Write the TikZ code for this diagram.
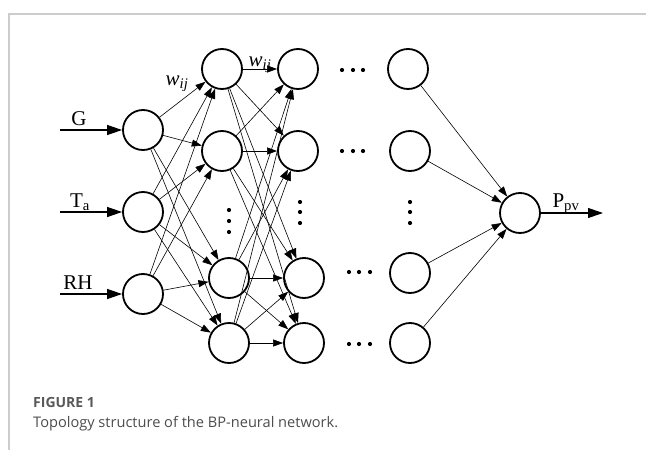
\documentclass[tikz,border=0pt]{standalone}
\usepackage{fontspec}
\setmainfont{Liberation Serif}
\newfontfamily\capfont{Open Sans}
\usetikzlibrary{arrows.meta}
\begin{document}
\begin{tikzpicture}[x=1pt,y=-1pt,
  neuron/.style={circle,draw,line width=1.8pt,minimum size=40pt,inner sep=0pt},
  link/.style={line width=0.6pt,-{Triangle[length=10pt,width=7pt]}},
  inarrow/.style={line width=1.1pt,-{Triangle[length=15pt,width=10pt]}},
  lbl/.style={font=\fontsize{21}{22}\selectfont,inner sep=0pt},
  dotc/.style={fill,circle,inner sep=0pt,minimum size=4.2pt}]
\useasboundingbox (0,0) rectangle (646,450);
\draw[line width=1.3pt,black!20] (646,14) -- (9,14) -- (9,450);
% layer 1
\node[neuron] (a1) at (143,130) {};
\node[neuron] (a2) at (143,212) {};
\node[neuron] (a3) at (143,294) {};
% layer 2
\node[neuron] (b1) at (222,69) {};
\node[neuron] (b2) at (222,151) {};
\node[neuron] (b3) at (229,278) {};
\node[neuron] (b4) at (229,343) {};
% layer 3
\node[neuron] (c1) at (298,69) {};
\node[neuron] (c2) at (298,151) {};
\node[neuron] (c3) at (304,278) {};
\node[neuron] (c4) at (304,343) {};
% layer 4
\node[neuron] (d1) at (408,69) {};
\node[neuron] (d2) at (410,151) {};
\node[neuron] (d3) at (410,273) {};
\node[neuron] (d4) at (410,343) {};
% output
\node[neuron] (o) at (520,213) {};
% inputs
\coordinate (iG) at (60,130);
\coordinate (iT) at (60,212);
\coordinate (iR) at (60,294);
\coordinate (oP) at (603,213);
\draw[inarrow] (iG) -- (a1);
\draw[inarrow] (iT) -- (a2);
\draw[inarrow] (iR) -- (a3);
\draw[inarrow] (o) -- (oP);
\node[lbl,anchor=base] (lG) at (79,125) {G};
\node[lbl,anchor=base] (lT) at (80,207) {T\textsubscript{a}};
\node[lbl,anchor=base] (lR) at (78,289) {RH};
\node[lbl,anchor=base] (lP) at (566,207) {P\textsubscript{pv}};
\node[lbl,anchor=base] (w1) at (177,85) {\itshape w\textsubscript{ij}};
\node[lbl,anchor=base] (w2) at (260,66) {\itshape w\textsubscript{ij}};
% connections
\foreach \i in {1,2,3}{\foreach \j in {1,2,3,4}{\draw[link] (a\i) -- (b\j);}}
\foreach \i in {1,2,3,4}{\foreach \j in {1,2,3,4}{\draw[link] (b\i) -- (c\j);}}
\foreach \i in {1,2,3,4}{\draw[link] (d\i) -- (o);}
% horizontal dots
\foreach \x/\y in {342/70,353/70,363/70, 342/151,353/151,363/151, 349/272,359/272,370/272, 349/344,359/344,370/344}
  {\node[dotc] at (\x,\y) {};}
% vertical dots
\foreach \x/\y in {229/210,229/221,229/232, 300/202,300/212,300/223, 410/202,410/212,410/223}
  {\node[dotc] at (\x,\y) {};}
% caption
\node[anchor=base west,inner sep=0pt,text=black!65,font=\capfont\fontsize{14}{15}\selectfont\bfseries] (cap1) at (33,407) {FIGURE 1};
\node[anchor=base west,inner sep=0pt,text=black!70,font=\capfont\fontsize{14.6}{16}\selectfont] (cap2) at (33,427) {Topology structure of the BP-neural network.};
\end{tikzpicture}
\end{document}
